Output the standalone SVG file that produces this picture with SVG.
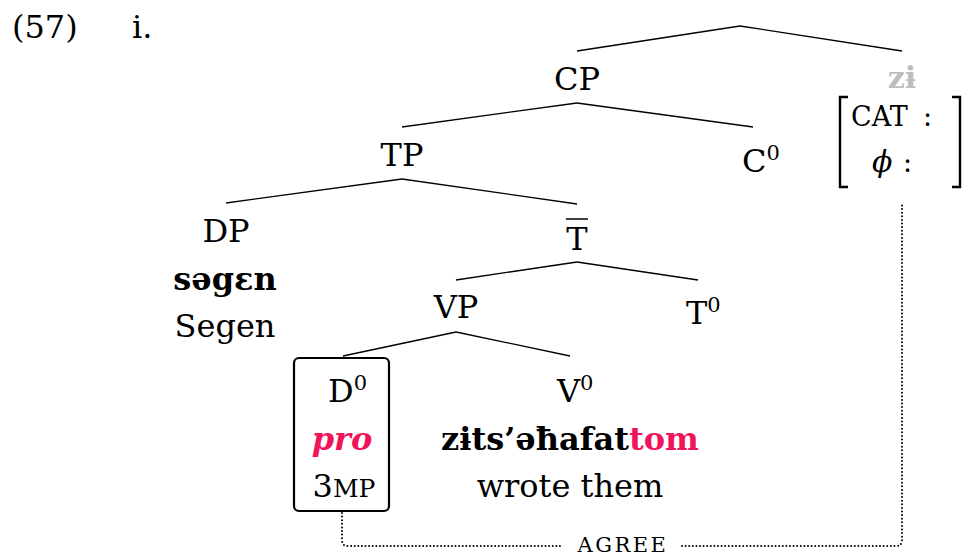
<svg xmlns="http://www.w3.org/2000/svg" width="968" height="556" viewBox="0 0 968 556">
<style>
text{font-family:"DejaVu Serif","Liberation Serif",serif;font-size:32px;fill:#000}
.m{text-anchor:middle}
.b{font-weight:bold}
.pk{fill:#f0145a}
.sup{font-size:21px}
.edge{stroke:#000;stroke-width:1.3;fill:none}
.dot{stroke:#000;stroke-width:2;fill:none;stroke-dasharray:0 3.6;stroke-linecap:round}
</style>
<text x="12" y="38">(57)</text>
<text x="132" y="38">i.</text>
<g id="connectors">
<line class="edge" x1="740" y1="26" x2="577" y2="51"/>
<line class="edge" x1="740" y1="26" x2="902" y2="51"/>
<line class="edge" x1="577" y1="103" x2="402" y2="127"/>
<line class="edge" x1="577" y1="103" x2="753" y2="127"/>
<line class="edge" x1="402" y1="179" x2="226" y2="203"/>
<line class="edge" x1="402" y1="179" x2="577" y2="204"/>
<line class="edge" x1="577" y1="262" x2="456" y2="280"/>
<line class="edge" x1="577" y1="262" x2="698" y2="280"/>
<line class="edge" x1="456" y1="332" x2="343" y2="356"/>
<line class="edge" x1="456" y1="332" x2="570" y2="356"/>
<path class="dot" d="M342,513 V540 Q342,546 348,546 H560"/>
<path class="dot" d="M682,546 H896 Q902,546 902,540 V203"/>
<text class="m" x="623" y="552" style="font-size:21px;letter-spacing:2.5px">AGREE</text>
</g>
<g id="CP"><text class="m" x="577" y="90">CP</text></g>
<g id="zi">
<text class="m b" x="902" y="88" style="fill:#bdbdbd;font-size:30px">zɨ</text>
<path d="M848,97 H840 V187 H848 M952,97 H960 V187 H952" fill="none" stroke="#000" stroke-width="2.4"/>
<text x="851" y="126" style="font-size:27px">CAT</text>
<text x="923" y="126" style="font-size:27px">:</text>
<text x="872" y="172" style="font-size:30px;font-style:italic">ϕ</text>
<text x="903" y="172" style="font-size:27px">:</text>
</g>
<g id="TP"><text class="m" x="402" y="166">TP</text></g>
<g id="C0"><text x="742" y="172">C<tspan class="sup" dy="-12">0</tspan></text></g>
<g id="DP">
<text class="m" x="226" y="242">DP</text>
<text class="m b" x="225" y="290">səgɛn</text>
<text class="m" x="225" y="337">Segen</text>
</g>
<g id="Tbar">
<text class="m" x="577" y="250">T</text>
<line x1="566" y1="219" x2="588" y2="219" stroke="#000" stroke-width="1.5"/>
</g>
<g id="VP"><text class="m" x="456" y="318">VP</text></g>
<g id="T0"><text x="686" y="324">T<tspan class="sup" dy="-12">0</tspan></text></g>
<g id="D0">
<rect x="294" y="358" width="95" height="153" rx="5" fill="none" stroke="#000" stroke-width="2.2"/>
<text x="328" y="402">D<tspan class="sup" dy="-12">0</tspan></text>
<text class="m b pk" x="342" y="450" font-style="italic">pro</text>
<text class="m" x="344" y="497">3<tspan style="font-size:25px">MP</tspan></text>
</g>
<g id="V0">
<text x="557" y="402">V<tspan class="sup" dy="-12">0</tspan></text>
<text class="m b" x="570" y="450">zɨts’əħafat<tspan class="pk">tom</tspan></text>
<text class="m" x="570" y="497">wrote them</text>
</g>
</svg>
